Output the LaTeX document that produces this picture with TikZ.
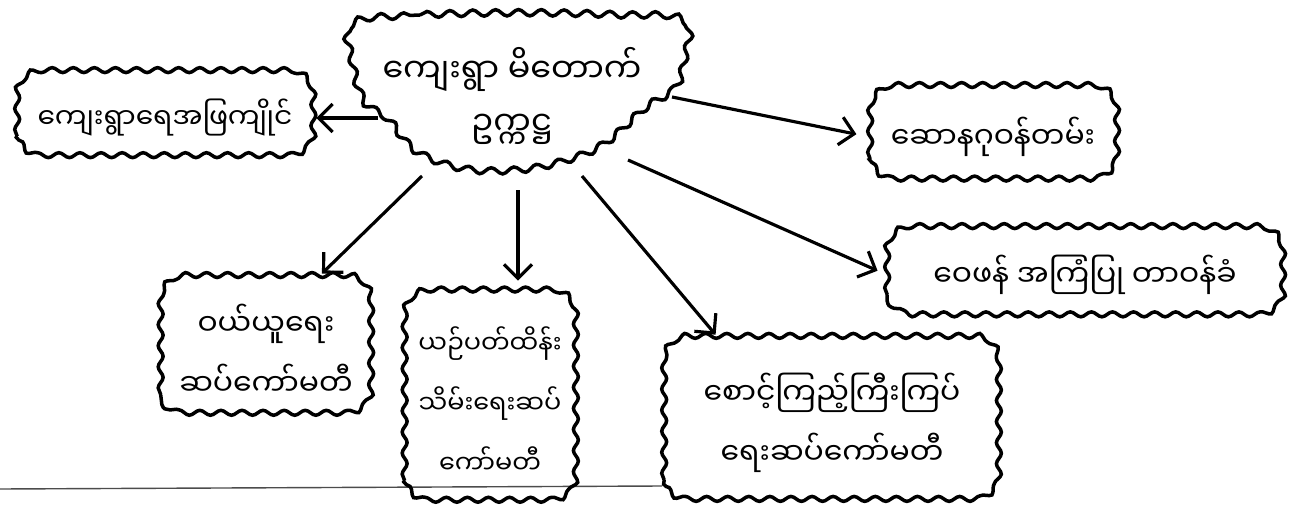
\documentclass[tikz,border=0pt]{standalone}
\usepackage{fontspec}
\newfontfamily\my[Script=Myanmar]{Noto Sans Myanmar UI}
\usetikzlibrary{decorations.pathmorphing,arrows.meta,calc}
\newcommand\wbox[1]{\draw[line width=2pt] decorate[decoration={snake,amplitude=1.4pt,segment length=12pt}] {[rounded corners=14pt] (#1.south west) rectangle (#1.north east)};}
\begin{document}
\begin{tikzpicture}[x=0.02cm,y=0.02cm,
  bub/.style={align=center, font=\my\fontsize{17}{34}\selectfont, inner sep=0pt},
  arr/.style={line width=1.8pt, -{Straight Barb[length=8pt,width=16pt]}}]
\useasboundingbox (0,0) rectangle (1292,-517);
\fill[white] (0,0) rectangle (1292,-517);
\draw[black!70, line width=0.8pt] (0,-489) -- (662,-486);

% central blob
\draw[line width=2pt] decorate[decoration={snake,amplitude=1.8pt,segment length=13pt}]
  {plot[smooth cycle, tension=0.6] coordinates {(347,-22) (420,-15) (520,-13) (610,-15) (678,-20) (678,-60) (668,-88) (640,-106) (602,-140) (570,-156) (520,-168) (460,-168) (410,-150) (382,-118) (358,-100) (346,-60)}};
\node[bub, minimum width=6.6cm, minimum height=3.2cm, font=\my\fontsize{19}{30}\selectfont] (c) at (512,-96) {ကျေးရွာ မိတောက်\\ဥက္ကဋ္ဌ};

\node[bub, minimum width=5.9cm, minimum height=1.7cm, font=\my\fontsize{16}{32}\selectfont] (l) at (165,-118) {ကျေးရွာရေအဖြကျိုင်};
\node[bub, minimum width=4.9cm, minimum height=1.85cm] (rt) at (993,-137) {ဆောနဂုဝန်တမ်း};
\node[bub, minimum width=7.9cm, minimum height=1.75cm] (rm) at (1085,-275) {ဝေဖန် အကြံပြု တာဝန်ခံ};
\node[bub, minimum width=4.2cm, minimum height=2.75cm] (bl) at (266,-350) {ဝယ်ယူရေး\\ဆပ်ကော်မတီ};
\node[bub, minimum width=3.4cm, minimum height=4.2cm, font=\my\fontsize{14.5}{34}\selectfont] (bm) at (490,-400) {ယဉ်ပတ်ထိန်း\\သိမ်းရေးဆပ်\\ကော်မတီ};
\node[bub, minimum width=6.7cm, minimum height=3.25cm] (br) at (832,-423) {စောင့်ကြည့်ကြီးကြပ်\\ရေးဆပ်ကော်မတီ};
\wbox{l}\wbox{rt}\wbox{rm}\wbox{bl}\wbox{bm}\wbox{br}

\coordinate (sL) at (378,-118);
\coordinate (sRT) at (672,-97);
\coordinate (sRM) at (628,-160);
\coordinate (sBR) at (582,-176);
\coordinate (sBM) at (518,-190);
\coordinate (sBL) at (422,-176);

\draw[arr, shorten >=2pt] (sL) -- (l.east);
\draw[arr, shorten >=8pt] (sRT) -- (rt.west);
\draw[arr, shorten >=6pt] (sRM) -- (rm.west);
\draw[arr, shorten >=5pt] (sBR) -- ($(br.north west)!0.17!(br.north east)$);
\draw[arr, shorten >=8pt] (sBM) -- (sBM |- bm.north);
\draw[arr, shorten >=6pt] (sBL) -- (bl.55);
\end{tikzpicture}
\end{document}
